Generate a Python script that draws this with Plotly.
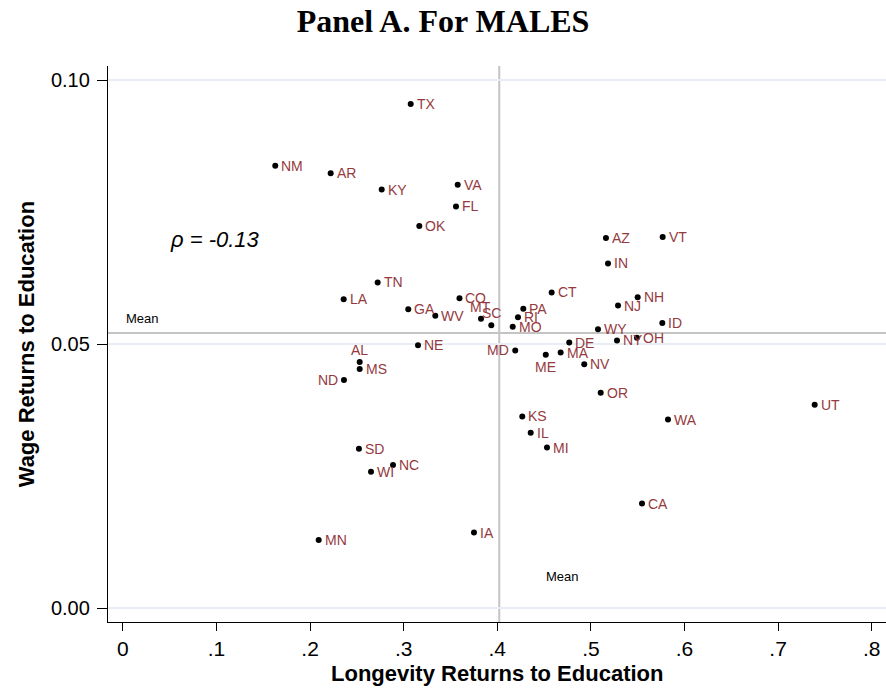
import plotly.graph_objects as go

# State-level returns to education (males)
states = ["TX", "NM", "AR", "KY", "VA", "FL", "OK", "TN", "LA", "GA", "WV", "CO",
          "MT", "SC", "NE", "AL", "MS", "ND", "SD", "NC", "WI", "MN", "IA", "PA",
          "RI", "MO", "CT", "AZ", "VT", "IN", "NH", "NJ", "ID", "WY", "NY", "OH",
          "MD", "DE", "ME", "MA", "NV", "OR", "UT", "WA", "KS", "IL", "MI", "CA"]
longevity = [0.3075, 0.1628, 0.2220, 0.2765, 0.3577, 0.3559, 0.3167, 0.2722, 0.2359,
             0.3049, 0.3338, 0.3596, 0.3826, 0.3936, 0.3153, 0.2530, 0.2530, 0.2362,
             0.2522, 0.2886, 0.2651, 0.2092, 0.3751, 0.4278, 0.4221, 0.4165, 0.4581,
             0.5161, 0.5767, 0.5183, 0.5500, 0.5290, 0.5763, 0.5076, 0.5279, 0.5492,
             0.4192, 0.4769, 0.4518, 0.4677, 0.4929, 0.5105, 0.7391, 0.5824, 0.4267,
             0.4357, 0.4531, 0.5546]
wage = [0.0955, 0.0838, 0.0824, 0.0793, 0.0802, 0.0761, 0.0724, 0.0617, 0.0585,
        0.0566, 0.0554, 0.0587, 0.0548, 0.0536, 0.0498, 0.0466, 0.0453, 0.0432,
        0.0302, 0.0271, 0.0258, 0.0129, 0.0143, 0.0567, 0.0551, 0.0533, 0.0598,
        0.0701, 0.0703, 0.0653, 0.0589, 0.0573, 0.0540, 0.0528, 0.0507, 0.0512,
        0.0488, 0.0503, 0.0480, 0.0484, 0.0462, 0.0408, 0.0385, 0.0357, 0.0363,
        0.0332, 0.0304, 0.0198]

mean_longevity = 0.4021
mean_wage = 0.0521
rho_text = "ρ = -0.13"

x_tick_vals = [0, 0.1, 0.2, 0.3, 0.4, 0.5, 0.6, 0.7, 0.8]
x_tick_text = ["0", ".1", ".2", ".3", ".4", ".5", ".6", ".7", ".8"]
y_tick_vals = [0.0, 0.05, 0.10]
y_tick_text = ["0.00", "0.05", "0.10"]

# Where a state label sits relative to its marker (default: right)
label_side = {"AL": "above", "MT": "above", "SC": "above",
              "ND": "left", "MD": "left", "ME": "below"}

LABEL_COLOR = "#953a40"
SANS = "Liberation Sans, Arial, Helvetica, sans-serif"

fig = go.Figure()
fig.add_trace(go.Scatter(
    x=longevity, y=wage, mode="markers",
    marker=dict(color="black", size=6, line=dict(width=0)),
    hoverinfo="text", text=states, showlegend=False,
))

annotations = []
for s, xv, yv in zip(states, longevity, wage):
    side = label_side.get(s, "right")
    a = dict(x=xv, y=yv, xref="x", yref="y", text=s, showarrow=False,
             font=dict(family=SANS, size=14, color=LABEL_COLOR))
    if side == "right":
        a.update(xanchor="left", yanchor="middle", xshift=4)
    elif side == "left":
        a.update(xanchor="right", yanchor="middle", xshift=-4)
    elif side == "above":
        a.update(xanchor="center", yanchor="middle", yshift=12)
    else:
        a.update(xanchor="center", yanchor="middle", yshift=-12)
    annotations.append(a)

# Mean labels, correlation and axis titles
annotations += [
    dict(x=0.02, xref="paper", y=mean_wage, yref="y", yshift=15, text="Mean",
         showarrow=False, xanchor="left", yanchor="middle",
         font=dict(family=SANS, size=13, color="black")),
    dict(x=mean_longevity, xref="x", xshift=45, y=0.081, yref="paper", text="Mean",
         showarrow=False, xanchor="left", yanchor="middle",
         font=dict(family=SANS, size=13, color="black")),
    dict(x=0.048, xref="x", y=0.0699, yref="y", text=rho_text, showarrow=False,
         xanchor="left", yanchor="middle",
         font=dict(family=SANS, size=22, color="black", style="italic")),
    dict(x=0.5, xref="paper", y=-0.0935, yref="paper",
         text="<b>Longevity Returns to Education</b>", showarrow=False,
         xanchor="center", yanchor="middle",
         font=dict(family=SANS, size=22, color="black")),
    dict(x=-0.105, xref="paper", y=0.5, yref="paper",
         text="<b>Wage Returns to Education</b>", showarrow=False, textangle=-90,
         xanchor="center", yanchor="middle",
         font=dict(family=SANS, size=22, color="black")),
]

shapes = [
    dict(type="line", xref="x", yref="paper", x0=mean_longevity, x1=mean_longevity,
         y0=0, y1=1, line=dict(color="#c4c4c4", width=2), layer="below"),
    dict(type="line", xref="paper", yref="y", x0=0, x1=1, y0=mean_wage, y1=mean_wage,
         line=dict(color="#c4c4c4", width=2), layer="below"),
]

fig.update_layout(
    width=886, height=692,
    margin=dict(l=108, r=0, t=66, b=70),
    paper_bgcolor="white", plot_bgcolor="white",
    title=dict(text="<b>Panel A. For MALES</b>", x=0.5, xanchor="center",
               y=1 - 21 / 692, yanchor="middle", yref="container",
               font=dict(family="Liberation Serif, Times New Roman, serif",
                         size=32, color="black")),
    annotations=annotations,
    shapes=shapes,
    xaxis=dict(range=[-0.0159, 0.8153], tickvals=x_tick_vals, ticktext=x_tick_text,
               showgrid=False, zeroline=False, showline=True, linecolor="black",
               linewidth=1.3, ticks="outside", ticklen=8, tickcolor="black",
               tickwidth=1.2, ticklabelstandoff=0,
               tickfont=dict(family=SANS, size=21, color="black")),
    yaxis=dict(range=[-0.00265, 0.1027], tickvals=y_tick_vals, ticktext=y_tick_text,
               showgrid=True, gridcolor="#e8eef3", gridwidth=1.5, zeroline=False,
               showline=True, linecolor="black", linewidth=1.3, ticks="outside",
               ticklen=10, tickcolor="black", tickwidth=1.2, ticklabelstandoff=3,
               tickfont=dict(family=SANS, size=20, color="black")),
)

fig.write_html("out.html")
